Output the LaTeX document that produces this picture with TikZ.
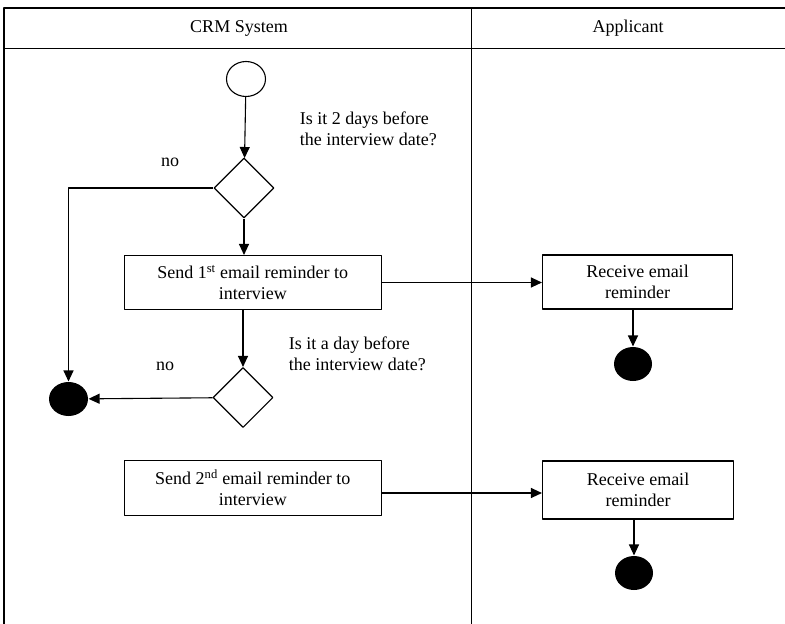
\documentclass[tikz,border=0pt]{standalone}
\usepackage{fontspec}
\setmainfont{Liberation Serif}
\usetikzlibrary{shapes.geometric,arrows.meta}

\begin{document}
\begin{tikzpicture}[x=1pt, y=-1pt, font=\fontsize{18}{21}\selectfont, line width=1.1pt, line join=round, >={Triangle[length=11pt,width=10pt]},
  act/.style={draw, rectangle, align=center, inner sep=2pt},
  dec/.style={draw, diamond, aspect=1, minimum size=60, inner sep=0pt},
  final/.style={fill, ellipse, minimum width=38, minimum height=34, inner sep=0pt}]
		\useasboundingbox (0,0) rectangle (785,624);
		% swimlanes
		\draw (785,8)--(4,8)--(4,624);
		\draw (4,48.5)--(785,48.5);
		\draw (471.5,8)--(471.5,624);
		\node (crm) at (239,28) {CRM System};
		\node (appl) at (628,28) {Applicant};
		% CRM system lane
		\node (start) at (246,79) [draw, ellipse, minimum width=39, minimum height=35, inner sep=0pt]{};
		\node (dec1) at (244,188) [dec]{};
		\node (send1) at (252.75,282.5) [act, minimum width=257, minimum height=54]{Send 1\textsuperscript{st} email reminder to\\interview};
		\node (dec2) at (243,397.5) [dec]{};
		\node (end0) at (68.5,399) [final, minimum width=39]{};
		\node (send2) at (252.75,488) [act, minimum width=257, minimum height=55]{Send 2\textsuperscript{nd} email reminder to\\interview};
		\node (q1) at (296,129) [anchor=west, align=left]{Is it 2 days before\\the interview date?};
		\node (q2) at (285,353.5) [anchor=west, align=left]{Is it a day before\\the interview date?};
		\node (no1) at (170,162) {no};
		\node (no2) at (165,366) {no};
		% applicant lane
		\node (recv1) at (637.5,282) [act, minimum width=190, minimum height=54]{Receive email\\reminder};
		\node (end1) at (633,364) [final]{};
		\node (recv2) at (638,490) [act, minimum width=191, minimum height=58]{Receive email\\reminder};
		\node (end2) at (634,573) [final]{};
		% flows
		\draw[->] (start)--(dec1);
		\draw[->] (dec1.south)--(dec1.south |- send1.north);
		\draw[->] (send1.east)--(send1.east -| recv1.west);
		\draw[->] (recv1.south -| end1)--(end1);
		\draw[->] (send1.south -| dec2)--(dec2);
		\draw[->] (dec1.west)-|(end0.north);
		\draw[->] (dec2)--(end0);
		\draw[->] ([yshift=-5pt]send2.east)--([yshift=-5pt]send2.east -| recv2.west);
		\draw[->] (recv2.south -| end2)--(end2);
\end{tikzpicture}
\end{document}
